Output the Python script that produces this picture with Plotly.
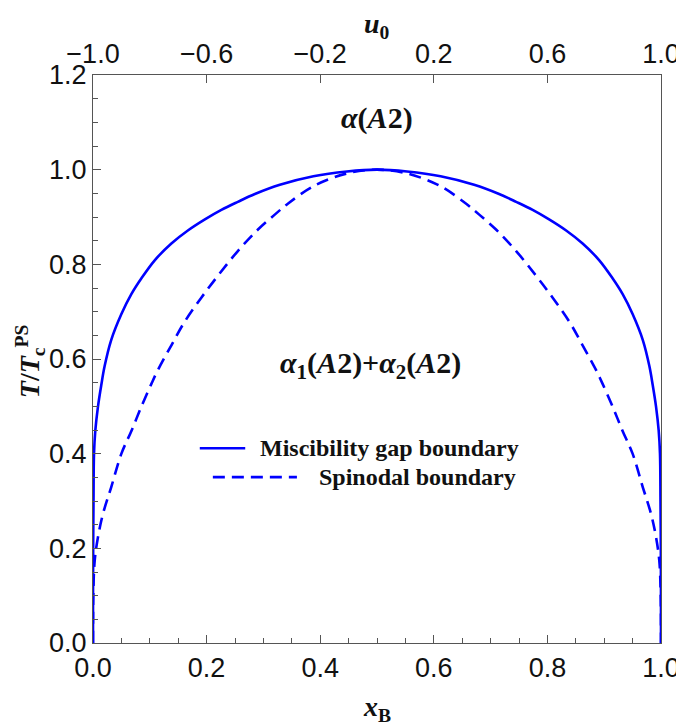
import plotly.graph_objects as go

# Miscibility gap (binodal) boundary
binodal_x = [0.0, 0.00005, 0.0003, 0.0009, 0.0018, 0.0041, 0.0088, 0.0146, 0.0205, 0.032,
             0.050, 0.0675, 0.085, 0.109, 0.138, 0.167, 0.197, 0.226, 0.255, 0.285,
             0.329, 0.388, 0.447, 0.5,
             0.553, 0.612, 0.671, 0.715, 0.745, 0.774, 0.803, 0.833, 0.862, 0.891,
             0.915, 0.9325, 0.950, 0.968, 0.9795, 0.9854, 0.9912, 0.9959, 0.9982,
             0.9991, 0.9997, 0.99995, 1.0]
binodal_T = [0.0, 0.1, 0.2, 0.3, 0.40, 0.449, 0.50, 0.545, 0.585, 0.640,
             0.695, 0.737, 0.770, 0.809, 0.844, 0.8715, 0.895, 0.915, 0.932, 0.9485,
             0.968, 0.986, 0.996, 1.0,
             0.996, 0.986, 0.968, 0.9485, 0.932, 0.915, 0.895, 0.8715, 0.844, 0.809,
             0.770, 0.737, 0.695, 0.640, 0.585, 0.545, 0.50, 0.449, 0.40,
             0.3, 0.2, 0.1, 0.0]

# Spinodal boundary
spinodal_x = [0.0, 0.0005, 0.003, 0.0088, 0.0176, 0.032, 0.050, 0.068, 0.085, 0.103,
              0.114, 0.138, 0.161, 0.191, 0.220, 0.255, 0.290, 0.320, 0.343, 0.388,
              0.447, 0.5,
              0.553, 0.612, 0.657, 0.680, 0.710, 0.745, 0.780, 0.809, 0.839, 0.862,
              0.886, 0.897, 0.915, 0.932, 0.950, 0.968, 0.9824, 0.9912, 0.997,
              0.9995, 1.0]
spinodal_T = [0.0, 0.1, 0.174, 0.224, 0.273, 0.329, 0.40, 0.449, 0.499, 0.548,
              0.576, 0.629, 0.678, 0.730, 0.776, 0.828, 0.873, 0.905, 0.928, 0.965,
              0.992, 1.0,
              0.992, 0.965, 0.928, 0.905, 0.873, 0.828, 0.776, 0.730, 0.678, 0.629,
              0.576, 0.548, 0.499, 0.449, 0.40, 0.329, 0.273, 0.224, 0.174,
              0.1, 0.0]

x_ticks = [0.0, 0.2, 0.4, 0.6, 0.8, 1.0]
y_ticks = [0.0, 0.2, 0.4, 0.6, 0.8, 1.0, 1.2]
u0_ticks = [-1.0, -0.6, -0.2, 0.2, 0.6, 1.0]
u0_labels = ["\u22121.0", "\u22120.6", "\u22120.2", "0.2", "0.6", "1.0"]

BLUE = "#0000FF"
AXIS = "#555555"
TXT = "#111111"
SANS = "Liberation Sans, Arial, sans-serif"
SERIF = "Liberation Serif, Times New Roman, serif"
TICKSIZE = 27

fig = go.Figure()
fig.add_trace(go.Scatter(x=binodal_x, y=binodal_T, mode="lines",
                         line=dict(color=BLUE, width=2.6, shape="spline", smoothing=1.0),
                         showlegend=False))
fig.add_trace(go.Scatter(x=spinodal_x, y=spinodal_T, mode="lines",
                         line=dict(color=BLUE, width=2.6, dash="12px,7px", shape="spline", smoothing=1.0),
                         showlegend=False))
# invisible trace to activate the top axis
fig.add_trace(go.Scatter(x=[u0_ticks[0], u0_ticks[-1]], y=[0, 0], xaxis="x2", mode="lines",
                         line=dict(width=0), hoverinfo="skip", showlegend=False))

fig.update_layout(
    template="none",
    width=676, height=719,
    margin=dict(l=85, r=23, t=67, b=84, pad=0),
    paper_bgcolor="white", plot_bgcolor="white",
    font=dict(family=SANS, size=TICKSIZE, color=TXT),
    xaxis=dict(range=[0, 1], tickvals=x_ticks, ticktext=[f"{v:.1f}" for v in x_ticks],
               ticks="inside", ticklen=8, tickcolor=AXIS, tickwidth=1.2,
               showline=True, linecolor=AXIS, linewidth=1.3, mirror=False,
               showgrid=False, zeroline=False, automargin=False,
               minor=dict(dtick=0.05, ticks="inside", ticklen=5, tickcolor=AXIS, showgrid=False),
               tickfont=dict(family=SANS, size=TICKSIZE, color=TXT)),
    xaxis2=dict(range=[-1, 1], overlaying="x", side="top", tickvals=u0_ticks, ticktext=u0_labels,
                ticks="inside", ticklen=8, tickcolor=AXIS, tickwidth=1.2,
                showline=True, linecolor=AXIS, linewidth=1.3, showgrid=False, zeroline=False,
                automargin=False,
                tickfont=dict(family=SANS, size=TICKSIZE, color=TXT)),
    yaxis=dict(range=[0, 1.2], tickvals=y_ticks, ticktext=[f"{v:.1f}" for v in y_ticks],
               ticks="inside", ticklen=8, tickcolor=AXIS, tickwidth=1.2,
               showline=True, linecolor=AXIS, linewidth=1.3, mirror=True,
               showgrid=False, zeroline=False, automargin=False,
               minor=dict(dtick=0.05, ticks="inside", ticklen=5, tickcolor=AXIS, showgrid=False),
               tickfont=dict(family=SANS, size=TICKSIZE, color=TXT)),
)

ann = []
ann.append(dict(text="<b><i>u</i><sub>0</sub></b>", xref="paper", yref="paper", x=0.5, y=1.088,
                showarrow=False, font=dict(family=SERIF, size=28, color=TXT),
                xanchor="center", yanchor="middle"))
ann.append(dict(text="<b><i>x</i><sub>B</sub></b>", xref="paper", yref="paper", x=0.5, y=-0.115,
                showarrow=False, font=dict(family=SERIF, size=28, color=TXT),
                xanchor="center", yanchor="middle"))
ann.append(dict(text="<b><i>T</i>/<i>T</i><sub>c</sub><sup>PS</sup></b>", xref="paper", yref="paper",
                x=-0.111, y=0.496, textangle=-90,
                showarrow=False, font=dict(family=SERIF, size=28, color=TXT),
                xanchor="center", yanchor="middle"))
ann.append(dict(text="<b><i>α</i>(<i>A</i>2)</b>", xref="x", yref="y", x=0.5, y=1.109,
                showarrow=False, font=dict(family=SERIF, size=30, color=TXT),
                xanchor="center", yanchor="middle"))
ann.append(dict(text="<b><i>α</i><sub>1</sub>(<i>A</i>2)+<i>α</i><sub>2</sub>(<i>A</i>2)</b>",
                xref="x", yref="y", x=0.488, y=0.587,
                showarrow=False, font=dict(family=SERIF, size=30, color=TXT),
                xanchor="center", yanchor="middle"))
ann.append(dict(text="<b>Miscibility gap boundary</b>", xref="paper", yref="paper", x=0.290, y=0.343,
                showarrow=False, font=dict(family=SERIF, size=24, color=TXT),
                xanchor="left", yanchor="middle"))
ann.append(dict(text="<b>Spinodal boundary</b>", xref="paper", yref="paper", x=0.394, y=0.292,
                showarrow=False, font=dict(family=SERIF, size=24, color=TXT),
                xanchor="left", yanchor="middle"))
fig.update_layout(annotations=ann)

fig.update_layout(shapes=[
    dict(type="line", xref="paper", yref="paper", x0=0.188, x1=0.268, y0=0.343, y1=0.343,
         line=dict(color=BLUE, width=2.6)),
    dict(type="line", xref="paper", yref="paper", x0=0.211, x1=0.359, y0=0.292, y1=0.292,
         line=dict(color=BLUE, width=2.6, dash="12px,7px")),
])

fig.write_html("out.html")
